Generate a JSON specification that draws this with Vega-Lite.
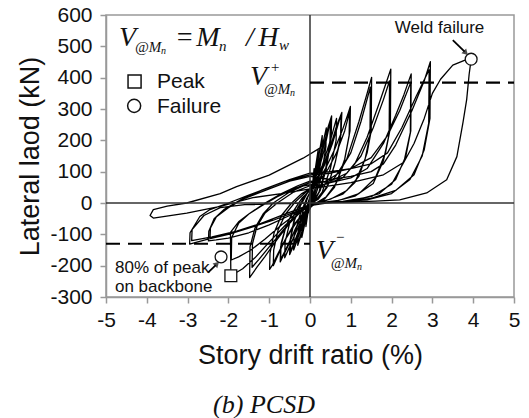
{
"$schema":"https://vega.github.io/schema/vega-lite/v6.json",
"width":408,"height":282,
"autosize":{"type":"none"},
"padding":{"left":106,"top":15,"right":15,"bottom":121},
"background":"white",
"config":{"view":{"stroke":"#999","strokeWidth":1.5},
"axis":{"grid":false,"domainColor":"#999","tickColor":"#999","domainWidth":1.5,"tickWidth":1.5,"tickSize":6,"labelFont":"Liberation Sans","labelFontSize":21,"labelColor":"#111","titleFont":"Liberation Sans","titleFontSize":27,"titleFontWeight":"normal","titleColor":"#111","labelFlush":false,"labelOverlap":false}},
"title":{"text":"(b) PCSD","orient":"bottom","font":"Liberation Serif","fontStyle":"italic","fontSize":26,"fontWeight":"normal","color":"#111","anchor":"middle","offset":24,"dx":-46},
"datasets":{
"zero":[{"x":0,"y":0}],
"dash":[{"x":0,"x2":5,"y":384},{"x":-5,"x2":0,"y":-130}],
"curve":[
{"x":0,"y":0},{"x":0.05,"y":40},{"x":0.1,"y":110},{"x":0.09,"y":70},{"x":0.03,"y":10},{"x":-0.05,"y":-30},{"x":-0.1,"y":-75},{"x":-0.09,"y":-45},{"x":-0.03,"y":0},{"x":0,"y":10},
{"x":0.05,"y":40},{"x":0.12,"y":100},{"x":0.2,"y":170},{"x":0.19,"y":120},{"x":0.1,"y":40},{"x":0,"y":-10},{"x":-0.1,"y":-50},{"x":-0.2,"y":-110},{"x":-0.19,"y":-75},{"x":-0.1,"y":-20},{"x":0,"y":20},
{"x":0.1,"y":70},{"x":0.2,"y":140},{"x":0.3,"y":215},{"x":0.29,"y":160},{"x":0.18,"y":60},{"x":0.05,"y":0},{"x":-0.1,"y":-50},{"x":-0.2,"y":-95},{"x":-0.3,"y":-135},{"x":-0.29,"y":-95},{"x":-0.18,"y":-30},{"x":-0.05,"y":20},{"x":0.05,"y":50},
{"x":0.15,"y":110},{"x":0.3,"y":205},{"x":0.29,"y":150},{"x":0.17,"y":55},{"x":0.04,"y":0},{"x":-0.1,"y":-45},{"x":-0.2,"y":-90},{"x":-0.3,"y":-128},{"x":-0.29,"y":-90},{"x":-0.17,"y":-25},{"x":-0.05,"y":20},
{"x":0.1,"y":60},{"x":0.25,"y":150},{"x":0.4,"y":240},{"x":0.39,"y":180},{"x":0.27,"y":80},{"x":0.1,"y":10},{"x":-0.1,"y":-40},{"x":-0.25,"y":-95},{"x":-0.4,"y":-150},{"x":-0.39,"y":-105},{"x":-0.25,"y":-40},{"x":-0.08,"y":15},
{"x":0.05,"y":45},{"x":0.2,"y":110},{"x":0.35,"y":190},{"x":0.45,"y":245},{"x":0.53,"y":278},{"x":0.52,"y":210},{"x":0.4,"y":110},{"x":0.25,"y":40},{"x":0.1,"y":5},{"x":-0.05,"y":-30},{"x":-0.2,"y":-70},{"x":-0.35,"y":-120},{"x":-0.45,"y":-150},{"x":-0.5,"y":-165},{"x":-0.49,"y":-120},{"x":-0.4,"y":-60},{"x":-0.25,"y":-10},{"x":-0.1,"y":25},{"x":0,"y":45},
{"x":0.2,"y":100},{"x":0.35,"y":170},{"x":0.5,"y":262},{"x":0.49,"y":200},{"x":0.38,"y":105},{"x":0.22,"y":35},{"x":0.08,"y":5},{"x":-0.1,"y":-35},{"x":-0.25,"y":-80},{"x":-0.4,"y":-130},{"x":-0.48,"y":-155},{"x":-0.47,"y":-110},{"x":-0.38,"y":-55},{"x":-0.22,"y":-5},{"x":-0.05,"y":35},
{"x":0.1,"y":55},{"x":0.3,"y":120},{"x":0.5,"y":200},{"x":0.65,"y":270},{"x":0.64,"y":200},{"x":0.5,"y":110},{"x":0.3,"y":35},{"x":0.1,"y":2},{"x":-0.1,"y":-30},{"x":-0.3,"y":-80},{"x":-0.5,"y":-140},{"x":-0.62,"y":-175},{"x":-0.61,"y":-125},{"x":-0.5,"y":-65},{"x":-0.3,"y":-15},{"x":-0.1,"y":25},
{"x":0.1,"y":60},{"x":0.3,"y":110},{"x":0.5,"y":180},{"x":0.65,"y":245},{"x":0.78,"y":289},{"x":0.76,"y":220},{"x":0.62,"y":130},{"x":0.45,"y":60},{"x":0.25,"y":20},{"x":0.05,"y":0},{"x":-0.15,"y":-35},{"x":-0.35,"y":-80},{"x":-0.55,"y":-140},{"x":-0.68,"y":-175},{"x":-0.73,"y":-188},{"x":-0.72,"y":-140},{"x":-0.6,"y":-80},{"x":-0.45,"y":-35},{"x":-0.25,"y":5},{"x":-0.05,"y":35},
{"x":0.15,"y":65},{"x":0.35,"y":120},{"x":0.55,"y":190},{"x":0.72,"y":265},{"x":0.76,"y":278},{"x":0.75,"y":205},{"x":0.6,"y":120},{"x":0.42,"y":50},{"x":0.2,"y":12},{"x":0,"y":-5},{"x":-0.2,"y":-45},{"x":-0.4,"y":-95},{"x":-0.6,"y":-150},{"x":-0.72,"y":-180},{"x":-0.71,"y":-130},{"x":-0.58,"y":-70},{"x":-0.4,"y":-25},{"x":-0.2,"y":15},{"x":0,"y":40},
{"x":0.2,"y":70},{"x":0.4,"y":115},{"x":0.6,"y":170},{"x":0.8,"y":235},{"x":0.92,"y":280},{"x":0.99,"y":308},{"x":0.98,"y":230},{"x":0.85,"y":140},{"x":0.65,"y":65},{"x":0.4,"y":20},{"x":0.15,"y":0},{"x":-0.1,"y":-25},{"x":-0.35,"y":-65},{"x":-0.6,"y":-115},{"x":-0.8,"y":-165},{"x":-0.93,"y":-200},{"x":-0.99,"y":-212},{"x":-0.98,"y":-160},{"x":-0.88,"y":-95},{"x":-0.7,"y":-40},{"x":-0.45,"y":0},{"x":-0.2,"y":30},{"x":0,"y":45},
{"x":0.2,"y":65},{"x":0.45,"y":110},{"x":0.65,"y":160},{"x":0.85,"y":230},{"x":0.97,"y":290},{"x":0.96,"y":215},{"x":0.83,"y":125},{"x":0.6,"y":50},{"x":0.35,"y":12},{"x":0.1,"y":-3},{"x":-0.15,"y":-30},{"x":-0.4,"y":-70},{"x":-0.6,"y":-115},{"x":-0.78,"y":-165},{"x":-0.9,"y":-200},{"x":-0.89,"y":-150},{"x":-0.78,"y":-85},{"x":-0.6,"y":-35},{"x":-0.35,"y":5},{"x":-0.1,"y":35},{"x":0.05,"y":50},
{"x":0.3,"y":55},{"x":0.6,"y":80},{"x":0.9,"y":140},{"x":1.2,"y":260},{"x":1.4,"y":350},{"x":1.51,"y":401},{"x":1.5,"y":230},{"x":1.4,"y":160},{"x":1.2,"y":85},{"x":0.9,"y":40},{"x":0.5,"y":12},{"x":0.15,"y":0},{"x":-0.2,"y":-25},{"x":-0.5,"y":-65},{"x":-0.8,"y":-115},{"x":-1.1,"y":-170},{"x":-1.3,"y":-205},{"x":-1.48,"y":-238},{"x":-1.47,"y":-140},{"x":-1.35,"y":-80},{"x":-1.15,"y":-35},{"x":-0.9,"y":0},{"x":-0.5,"y":35},{"x":-0.15,"y":55},{"x":0.1,"y":60},
{"x":0.4,"y":70},{"x":0.7,"y":95},{"x":1.0,"y":160},{"x":1.25,"y":260},{"x":1.48,"y":370},{"x":1.47,"y":215},{"x":1.35,"y":140},{"x":1.1,"y":65},{"x":0.8,"y":28},{"x":0.4,"y":8},{"x":0.05,"y":-3},{"x":-0.3,"y":-35},{"x":-0.65,"y":-85},{"x":-1.0,"y":-140},{"x":-1.25,"y":-180},{"x":-1.42,"y":-205},{"x":-1.41,"y":-130},{"x":-1.3,"y":-75},{"x":-1.1,"y":-32},{"x":-0.8,"y":0},{"x":-0.4,"y":35},{"x":0,"y":55},
{"x":0.4,"y":60},{"x":0.8,"y":80},{"x":1.1,"y":125},{"x":1.4,"y":210},{"x":1.7,"y":320},{"x":1.98,"y":427},{"x":1.97,"y":240},{"x":1.85,"y":160},{"x":1.6,"y":80},{"x":1.2,"y":30},{"x":0.7,"y":8},{"x":0.2,"y":0},{"x":-0.2,"y":-25},{"x":-0.6,"y":-70},{"x":-1.0,"y":-125},{"x":-1.35,"y":-175},{"x":-1.65,"y":-210},{"x":-1.94,"y":-232},{"x":-1.95,"y":-94},{"x":-1.75,"y":-60},{"x":-1.5,"y":-35},{"x":-1.2,"y":-10},{"x":-0.8,"y":20},{"x":-0.4,"y":45},{"x":0,"y":65},
{"x":0.5,"y":70},{"x":0.9,"y":95},{"x":1.25,"y":150},{"x":1.55,"y":240},{"x":1.8,"y":330},{"x":1.95,"y":390},{"x":1.94,"y":220},{"x":1.8,"y":135},{"x":1.55,"y":62},{"x":1.1,"y":22},{"x":0.6,"y":5},{"x":0.1,"y":-3},{"x":-0.3,"y":-30},{"x":-0.7,"y":-70},{"x":-1.1,"y":-115},{"x":-1.45,"y":-150},{"x":-1.75,"y":-172},{"x":-1.93,"y":-182},{"x":-1.92,"y":-110},{"x":-1.75,"y":-65},{"x":-1.5,"y":-35},{"x":-1.1,"y":0},{"x":-0.7,"y":30},{"x":-0.3,"y":55},{"x":0,"y":70},
{"x":0.5,"y":65},{"x":1.0,"y":80},{"x":1.4,"y":110},{"x":1.8,"y":190},{"x":2.1,"y":280},{"x":2.3,"y":345},{"x":2.48,"y":412},{"x":2.47,"y":230},{"x":2.35,"y":150},{"x":2.1,"y":75},{"x":1.7,"y":30},{"x":1.1,"y":8},{"x":0.4,"y":0},{"x":0,"y":-8},{"x":-0.5,"y":-40},{"x":-1.0,"y":-70},{"x":-1.5,"y":-95},{"x":-2.0,"y":-112},{"x":-2.3,"y":-118},{"x":-2.49,"y":-121},{"x":-2.48,"y":-90},{"x":-2.35,"y":-50},{"x":-2.1,"y":-20},{"x":-1.7,"y":10},{"x":-1.2,"y":40},{"x":-0.6,"y":70},{"x":0,"y":90},
{"x":0.5,"y":95},{"x":1.0,"y":110},{"x":1.5,"y":145},{"x":1.9,"y":215},{"x":2.2,"y":295},{"x":2.47,"y":385},{"x":2.46,"y":225},{"x":2.3,"y":130},{"x":2.0,"y":60},{"x":1.5,"y":20},{"x":0.8,"y":5},{"x":0.2,"y":0},{"x":-0.3,"y":-25},{"x":-0.9,"y":-55},{"x":-1.5,"y":-80},{"x":-2.0,"y":-98},{"x":-2.45,"y":-110},{"x":-2.44,"y":-80},{"x":-2.3,"y":-45},{"x":-2.0,"y":-15},{"x":-1.6,"y":15},{"x":-1.0,"y":45},{"x":-0.5,"y":70},{"x":0,"y":85},
{"x":0.5,"y":75},{"x":1.0,"y":85},{"x":1.5,"y":100},{"x":1.8,"y":125},{"x":2.1,"y":185},{"x":2.5,"y":295},{"x":2.8,"y":390},{"x":2.95,"y":451},{"x":2.94,"y":270},{"x":2.8,"y":170},{"x":2.55,"y":90},{"x":2.1,"y":40},{"x":1.5,"y":15},{"x":0.8,"y":4},{"x":0.2,"y":0},{"x":-0.3,"y":-25},{"x":-0.9,"y":-55},{"x":-1.5,"y":-80},{"x":-2.0,"y":-100},{"x":-2.5,"y":-115},{"x":-2.95,"y":-131},{"x":-2.94,"y":-95},{"x":-2.7,"y":-43},{"x":-2.45,"y":-21},{"x":-2.0,"y":0},{"x":-1.5,"y":25},{"x":-1.0,"y":50},{"x":-0.5,"y":75},{"x":0,"y":95},
{"x":0.5,"y":100},{"x":1.0,"y":110},{"x":1.5,"y":125},{"x":1.9,"y":160},{"x":2.25,"y":240},{"x":2.6,"y":340},{"x":2.92,"y":425},{"x":2.91,"y":255},{"x":2.75,"y":150},{"x":2.45,"y":75},{"x":2.0,"y":30},{"x":1.4,"y":10},{"x":0.6,"y":2},{"x":0,"y":-5},{"x":-0.6,"y":-35},{"x":-1.2,"y":-65},{"x":-1.8,"y":-90},{"x":-2.4,"y":-108},{"x":-2.9,"y":-120},{"x":-2.89,"y":-85},{"x":-2.6,"y":-40},{"x":-2.2,"y":-15},{"x":-1.6,"y":-5},{"x":-0.8,"y":-2},{"x":0,"y":0},
{"x":0.8,"y":2},{"x":1.6,"y":6},{"x":2.2,"y":10},{"x":2.86,"y":32},{"x":3.35,"y":74},{"x":3.6,"y":148},{"x":3.75,"y":257},{"x":3.84,"y":330},{"x":3.9,"y":410},{"x":3.95,"y":459},
{"x":3.8,"y":456},{"x":3.5,"y":440},{"x":3.2,"y":395},{"x":3.0,"y":350},{"x":2.8,"y":270},{"x":2.55,"y":190},{"x":2.3,"y":130},{"x":1.8,"y":90},{"x":1.0,"y":65},{"x":0,"y":45},{"x":-0.7,"y":30},{"x":-1.4,"y":17},{"x":-2.2,"y":-11},{"x":-3.02,"y":-32},{"x":-3.84,"y":-48},{"x":-3.92,"y":-40},{"x":-3.84,"y":-21},{"x":-3.5,"y":-10},{"x":-3.02,"y":0},{"x":-2.2,"y":30},{"x":-1.8,"y":52},{"x":-1.0,"y":89},{"x":-0.17,"y":143},{"x":0.25,"y":176}
],
"datamarks":[{"x":-1.94,"y":-232,"s":"square"},{"x":-2.18,"y":-172,"s":"circle"},{"x":3.95,"y":459,"s":"circle"}],
"legmarks":[{"x":-4.3,"y":388,"s":"square"},{"x":-4.31,"y":310,"s":"circle"}],
"arrows":[{"a":"w","x":3.5,"y":520},{"a":"w","x":3.79,"y":483},{"a":"p","x":-2.5,"y":-222},{"a":"p","x":-2.31,"y":-198}],
"heads":[{"a":"w","x":3.82,"y":479},{"a":"p","x":-2.28,"y":-194}],
"serifbig":[{"t":"V","x":-4.68,"y":501},{"t":"=","x":-3.31,"y":501},{"t":"M","x":-2.79,"y":501},{"t":"/","x":-1.57,"y":501},{"t":"H","x":-1.27,"y":501},{"t":"V","x":-1.47,"y":377},{"t":"V","x":0.147,"y":-178}],
"serifsub":[{"t":"@M","x":-4.29,"y":482},{"t":"n","x":-2.23,"y":485},{"t":"w","x":-0.76,"y":489},{"t":"+","x":-0.98,"y":418},{"t":"@M","x":-1.13,"y":348},{"t":"−","x":0.61,"y":-124},{"t":"@M","x":0.51,"y":-207}],
"seriftiny":[{"t":"n","x":-3.65,"y":476},{"t":"n","x":-0.49,"y":341},{"t":"n","x":1.15,"y":-213}],
"legtext":[{"t":"Peak","x":-3.75,"y":385},{"t":"Failure","x":-3.75,"y":305}],
"notes":[{"t":"Weld failure","x":2.08,"y":559},{"t":"80% of peak","x":-4.78,"y":-206},{"t":"on backbone","x":-4.78,"y":-267}]
},
"layer":[
{"data":{"name":"curve"},"mark":{"type":"line","color":"#000","strokeWidth":1.3,"strokeJoin":"round"},"encoding":{"x":{"field":"x","type":"quantitative","scale":{"domain":[-5,5],"nice":false,"zero":false},"axis":{"title":"Story drift ratio (%)","values":[-5,-4,-3,-2,-1,0,1,2,3,4,5],"tickCount":12,"labelExpr":"'' + datum.value","labelOverlap":false,"labelFlush":false,"labelPadding":6,"titlePadding":12}},"y":{"field":"y","type":"quantitative","scale":{"domain":[-300,600],"nice":false,"zero":false},"axis":{"title":"Lateral laod (kN)","values":[-300,-200,-100,0,100,200,300,400,500,600],"tickCount":12,"labelExpr":"'' + datum.value","labelOverlap":false,"labelFlush":false,"labelPadding":8,"titlePadding":5}},"order":{"value":null}}},
{"data":{"name":"zero"},"mark":{"type":"rule","color":"#333","strokeWidth":1.5},"encoding":{"x":{"field":"x","type":"quantitative"}}},
{"data":{"name":"zero"},"mark":{"type":"rule","color":"#333","strokeWidth":1.5},"encoding":{"y":{"field":"y","type":"quantitative"}}},
{"data":{"name":"dash"},"mark":{"type":"rule","color":"#000","strokeWidth":2.2,"strokeDash":[14,8]},"encoding":{"x":{"field":"x","type":"quantitative"},"x2":{"field":"x2"},"y":{"field":"y","type":"quantitative"}}},
{"data":{"name":"arrows"},"mark":{"type":"line","color":"#000","strokeWidth":1.8},"encoding":{"x":{"field":"x","type":"quantitative"},"y":{"field":"y","type":"quantitative"},"detail":{"field":"a"},"order":{"value":null}}},
{"data":{"name":"heads"},"transform":[{"filter":"datum.a=='w'"}],"mark":{"type":"point","shape":"triangle-up","filled":true,"color":"#000","size":45,"angle":135},"encoding":{"x":{"field":"x","type":"quantitative"},"y":{"field":"y","type":"quantitative"}}},
{"data":{"name":"heads"},"transform":[{"filter":"datum.a=='p'"}],"mark":{"type":"point","shape":"triangle-up","filled":true,"color":"#000","size":45,"angle":45},"encoding":{"x":{"field":"x","type":"quantitative"},"y":{"field":"y","type":"quantitative"}}},
{"data":{"name":"datamarks"},"mark":{"type":"point","filled":true,"fill":"white","stroke":"#111","strokeWidth":1.3,"size":140,"opacity":1},"encoding":{"x":{"field":"x","type":"quantitative"},"y":{"field":"y","type":"quantitative"},"shape":{"field":"s","type":"nominal","scale":null}}},
{"data":{"name":"legmarks"},"mark":{"type":"point","filled":true,"fill":"white","stroke":"#111","strokeWidth":1.5,"size":170,"opacity":1},"encoding":{"x":{"field":"x","type":"quantitative"},"y":{"field":"y","type":"quantitative"},"shape":{"field":"s","type":"nominal","scale":null}}},
{"data":{"name":"serifbig"},"mark":{"type":"text","font":"Liberation Serif","fontStyle":"italic","fontSize":28,"align":"left","baseline":"alphabetic","color":"#111"},"encoding":{"x":{"field":"x","type":"quantitative"},"y":{"field":"y","type":"quantitative"},"text":{"field":"t"}}},
{"data":{"name":"serifsub"},"mark":{"type":"text","font":"Liberation Serif","fontStyle":"italic","fontSize":15,"align":"left","baseline":"alphabetic","color":"#111"},"encoding":{"x":{"field":"x","type":"quantitative"},"y":{"field":"y","type":"quantitative"},"text":{"field":"t"}}},
{"data":{"name":"seriftiny"},"mark":{"type":"text","font":"Liberation Serif","fontStyle":"italic","fontSize":10,"align":"left","baseline":"alphabetic","color":"#111"},"encoding":{"x":{"field":"x","type":"quantitative"},"y":{"field":"y","type":"quantitative"},"text":{"field":"t"}}},
{"data":{"name":"legtext"},"mark":{"type":"text","font":"Liberation Sans","fontSize":21,"align":"left","baseline":"middle","color":"#111"},"encoding":{"x":{"field":"x","type":"quantitative"},"y":{"field":"y","type":"quantitative"},"text":{"field":"t"}}},
{"data":{"name":"notes"},"mark":{"type":"text","font":"Liberation Sans","fontSize":17,"align":"left","baseline":"middle","color":"#111"},"encoding":{"x":{"field":"x","type":"quantitative"},"y":{"field":"y","type":"quantitative"},"text":{"field":"t"}}}
]
}
